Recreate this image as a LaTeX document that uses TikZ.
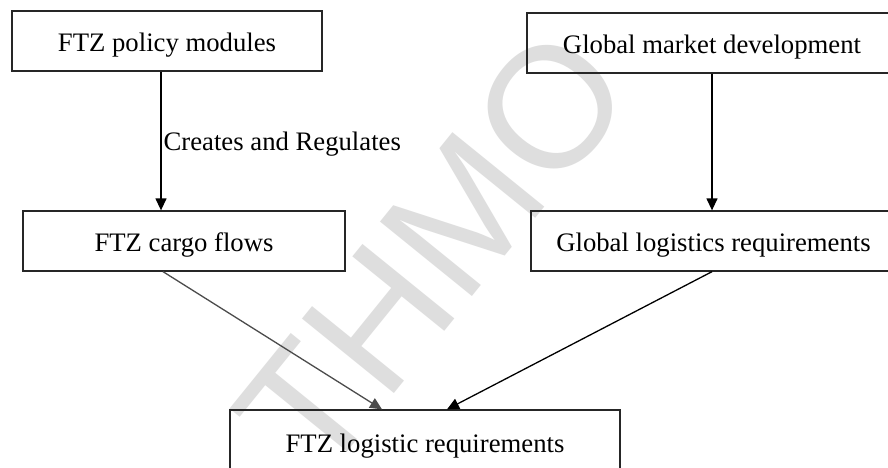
\documentclass[tikz,border=0pt]{standalone}
\usepackage{fontspec}
\setmainfont{Liberation Serif}
\newfontfamily\wmfont{Liberation Sans}
\usetikzlibrary{arrows.meta}

\tikzset{
  box/.style={draw=black!85, line width=1.3pt, inner sep=0pt, align=center,
    text height=21pt, text depth=0pt,
    font=\fontsize{26.7pt}{32pt}\selectfont},
  lbl/.style={inner sep=0pt, font=\fontsize{26.7pt}{32pt}\selectfont},
  arr/.style={line width=1.3pt, -{Triangle[length=12pt,width=11pt]}},
  wmark/.style={text=black!13, inner sep=0pt, rotate=51,
    font=\wmfont\fontsize{172pt}{176pt}\selectfont}
}

\begin{document}
\begin{tikzpicture}[x=1pt, y=-1pt]
  \useasboundingbox (0,0) rectangle (888,468);
  \clip (0,0) rectangle (888,468);
  \fill[white] (0,0) rectangle (888,468);

  % faint background stamp
  \node[wmark] (stamp) at (433,252) {THMO};

  % boxes
  \node[box, minimum width=310pt, minimum height=60pt] (pol) at (167,41) {FTZ policy modules};
  \node[box, minimum width=370pt, minimum height=60pt] (mkt) at (712,43) {Global market development};
  \node[box, minimum width=322pt, minimum height=60pt] (cargo) at (184,241) {FTZ cargo flows};
  \node[box, minimum width=365pt, minimum height=60pt] (glr) at (713.5,241) {Global logistics requirements};
  \node[box, minimum width=390pt, minimum height=64pt] (ftz) at (425,442) {FTZ logistic requirements};

  % connectors
  \coordinate (polout) at ([xshift=-6pt]pol.south);
  \draw[arr] (polout) -- (polout |- cargo.north)
    node[lbl, pos=0.5, anchor=west, xshift=2pt, yshift=-3pt] (lab) {Creates and Regulates};
  \draw[arr] (mkt.south) -- (mkt.south |- glr.north);
  \draw[arr, black!70] ([xshift=-21pt]cargo.south) -- ([xshift=-43pt]ftz.north);
  \draw[arr] ([xshift=-1.5pt]glr.south) -- ([xshift=22pt]ftz.north);
\end{tikzpicture}
\end{document}
